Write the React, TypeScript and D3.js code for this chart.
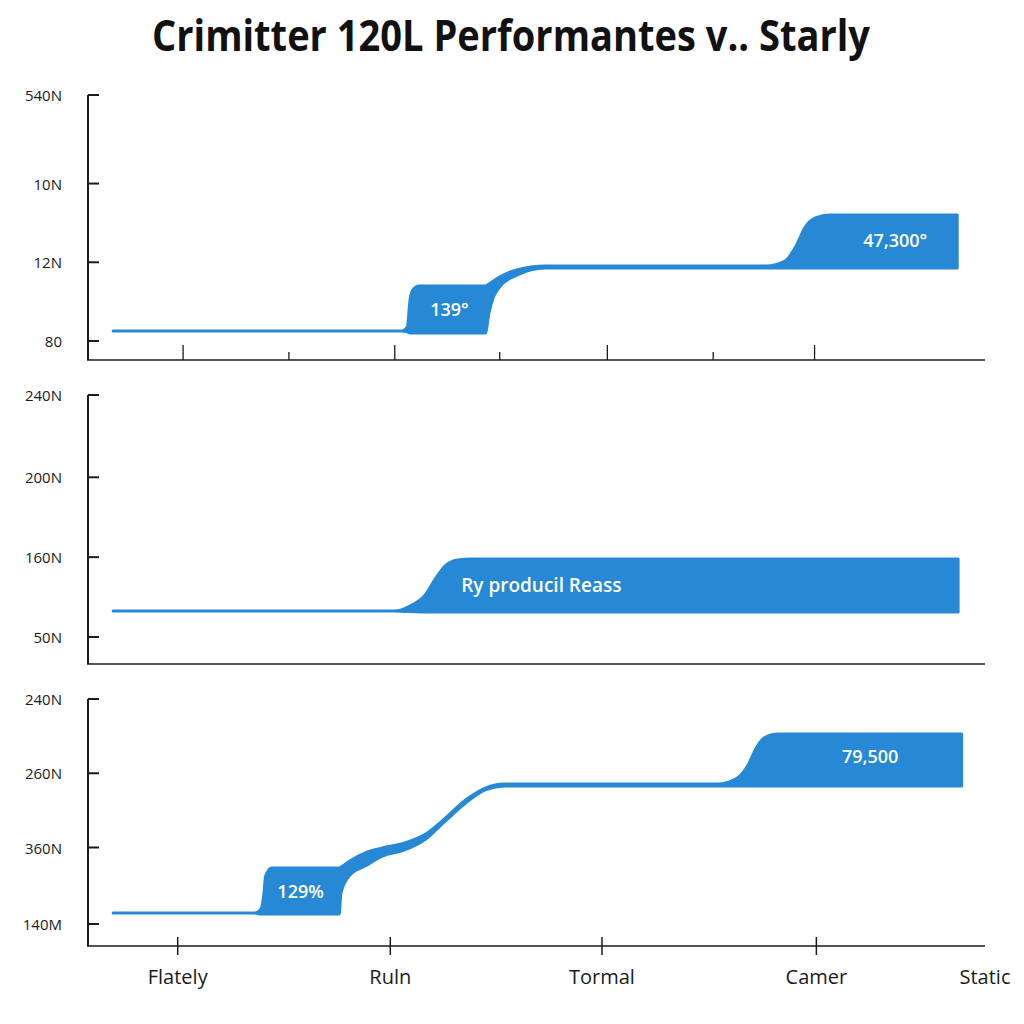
import React from "react";
import * as d3 from "d3";

const TITLE = "Crimitter 120L Performantes v.. Starly";

// bottom category axis
const xCategories = ["Flately", "Ruln", "Tormal", "Camer", "Static"];
const xCategoryPos = [10.0, 33.7, 57.3, 81.2, 100];

// panel 1 minor/major x ticks
const p1XTicks = [10.6, 22.4, 34.2, 45.9, 57.9, 69.7, 81.0];
const p1XTickMajor = [true, false, true, false, true, false, true];

// y tick labels + their positions per panel
const p1YLabels = ["80", "12N", "10N", "540N"];
const p1YTicks = [0, 32, 64, 100];
const p2YLabels = ["50N", "160N", "200N", "240N"];
const p2YTicks = [0, 33, 66, 100];
const p3YLabels = ["140M", "360N", "260N", "240N"];
const p3YTicks = [0, 34, 67, 100];

// series: x, upper edge, lower edge
const p1X = [2.8, 35.0, 35.6, 35.9, 36.2, 36.9, 44.3, 44.7, 45.2, 45.9, 47.8, 51.0, 75.6, 77.7, 79.0, 79.9, 81.1, 82.7, 96.9];
const p1Hi = [4.1, 4.1, 5.7, 16.7, 20.7, 22.4, 22.4, 23.2, 24.4, 26.0, 28.9, 30.5, 30.5, 32.5, 39.0, 45.9, 50.0, 51.2, 51.2];
const p1Lo = [4.1, 4.1, 3.7, 3.3, 3.3, 3.3, 3.3, 11.4, 17.9, 22.0, 26.8, 29.7, 29.7, 29.7, 29.7, 29.7, 29.7, 29.7, 29.7];

const p2X = [2.8, 34.2, 35.9, 37.6, 38.8, 39.8, 41.2, 42.8, 97.0];
const p2Hi = [10.7, 10.7, 12.8, 17.4, 24.4, 29.3, 31.8, 32.2, 32.2];
const p2Lo = [10.7, 10.7, 10.5, 10.3, 10.3, 10.3, 10.3, 10.3, 10.3];

const p3X = [2.8, 18.6, 19.3, 19.6, 19.8, 20.5, 28.0, 28.2, 29.2, 30.9, 32.8, 35.3, 37.5, 39.6, 42.1, 44.3, 46.4, 70.2, 72.2, 73.6, 74.5, 75.4, 76.9, 97.4];
const p3Hi = [4.9, 4.9, 6.7, 12.9, 21.3, 24.9, 24.9, 25.3, 28.0, 31.6, 33.8, 36.0, 39.6, 46.2, 55.1, 60.4, 62.2, 62.2, 64.4, 70.7, 78.2, 82.7, 84.4, 84.4];
const p3Lo = [4.9, 4.9, 4.4, 4.4, 4.4, 4.4, 4.4, 13.8, 21.8, 25.8, 30.2, 32.9, 37.3, 44.9, 53.8, 59.6, 61.3, 61.3, 61.3, 61.3, 61.3, 61.3, 61.3, 61.3];

// box annotations
const p1Labels = ["139°", "47,300°"];
const p1LabelX = [40.3, 90.0];
const p1LabelY = [12.9, 41.0];
const p2Labels = ["Ry producil Reass"];
const p2LabelX = [41.6];
const p2LabelY = [21.5];
const p3Labels = ["129%", "79,500"];
const p3LabelX = [23.7, 87.2];
const p3LabelY = [14.6, 74.5];

const BLUE = "#2788D6";
const INK = "#1b1b1b";
const FONT = "'Open Sans', 'Noto Sans', sans-serif";

const x = d3.scaleLinear().domain([0, 100]).range([88, 985]);

type Pt = { x: number; hi: number; lo: number };

const panels = [
  {
    top: 95, zero: 341, axisY: 360,
    yLabels: p1YLabels, yTicks: p1YTicks,
    xs: p1X, hi: p1Hi, lo: p1Lo,
    labels: p1Labels, lx: p1LabelX, ly: p1LabelY, anchor: "middle",
    xTicks: "up",
  },
  {
    top: 395, zero: 637, axisY: 664,
    yLabels: p2YLabels, yTicks: p2YTicks,
    xs: p2X, hi: p2Hi, lo: p2Lo,
    labels: p2Labels, lx: p2LabelX, ly: p2LabelY, anchor: "start",
    xTicks: "none",
  },
  {
    top: 699, zero: 924, axisY: 946,
    yLabels: p3YLabels, yTicks: p3YTicks,
    xs: p3X, hi: p3Hi, lo: p3Lo,
    labels: p3Labels, lx: p3LabelX, ly: p3LabelY, anchor: "middle",
    xTicks: "cross",
  },
];

function Panel({ p }: { p: any }) {
  const y = d3.scaleLinear().domain([0, 100]).range([p.zero, p.top]);
  const pts: Pt[] = p.xs.map((v: number, i: number) => ({ x: v, hi: p.hi[i], lo: p.lo[i] }));
  const area = d3
    .area<Pt>()
    .x((d) => x(d.x))
    .y0((d) => y(d.lo))
    .y1((d) => y(d.hi))
    .curve(d3.curveMonotoneX);
  const x0 = x(0);
  const x1 = x(100);
  return (
    <g>
      <path d={area(pts) || ""} fill={BLUE} stroke={BLUE} strokeWidth={3} strokeLinejoin="round" />
      {p.labels.map((t: string, i: number) => (
        <text
          key={t}
          x={x(p.lx[i])}
          y={y(p.ly[i])}
          textAnchor={p.anchor}
          dominantBaseline="central"
          fill="#fff"
          fontFamily={FONT}
          fontWeight={600}
          fontSize={p.anchor === "start" ? 19 : 18}
        >
          {t}
        </text>
      ))}
      {/* y axis */}
      <line x1={x0} x2={x0} y1={p.top} y2={p.axisY} stroke={INK} strokeWidth={2} />
      {p.yTicks.map((v: number, i: number) => (
        <g key={i}>
          <line x1={x0} x2={x0 + 11} y1={y(v)} y2={y(v)} stroke={INK} strokeWidth={2} />
          <text
            x={62}
            y={y(v)}
            textAnchor="end"
            dominantBaseline="central"
            fontFamily={FONT}
            fontSize={15}
            fill={INK}
          >
            {p.yLabels[i]}
          </text>
        </g>
      ))}
      {/* x axis */}
      <line x1={x0 - 1} x2={x1} y1={p.axisY} y2={p.axisY} stroke={INK} strokeWidth={1.6} />
      {p.xTicks === "up" &&
        p1XTicks.map((v, i) => (
          <line
            key={i}
            x1={x(v)}
            x2={x(v)}
            y1={p.axisY}
            y2={p.axisY - (p1XTickMajor[i] ? 15 : 8)}
            stroke={INK}
            strokeWidth={1.3}
          />
        ))}
      {p.xTicks === "cross" &&
        xCategoryPos.slice(0, 4).map((v, i) => (
          <line key={i} x1={x(v)} x2={x(v)} y1={p.axisY - 9} y2={p.axisY + 9} stroke={INK} strokeWidth={1.5} />
        ))}
    </g>
  );
}

export default function App() {
  return (
    <div style={{ position: "absolute", left: 0, top: 0 }}>
      <svg width={1024} height={1024} viewBox="0 0 1024 1024" style={{ display: "block", background: "#fff" }}>
        <rect width={1024} height={1024} fill="#fff" />
        <text
          x={511}
          y={51}
          textAnchor="middle"
          fontFamily={FONT}
          fontWeight={700}
          fontSize={43}
          textLength={718}
          lengthAdjust="spacingAndGlyphs"
          fill="#111"
        >
          {TITLE}
        </text>
        {panels.map((p, i) => (
          <Panel key={i} p={p} />
        ))}
        {xCategories.map((c, i) => (
          <text
            key={c}
            x={x(xCategoryPos[i])}
            y={984}
            textAnchor="middle"
            fontFamily={FONT}
            fontSize={20}
            fill={INK}
          >
            {c}
          </text>
        ))}
      </svg>
    </div>
  );
}
